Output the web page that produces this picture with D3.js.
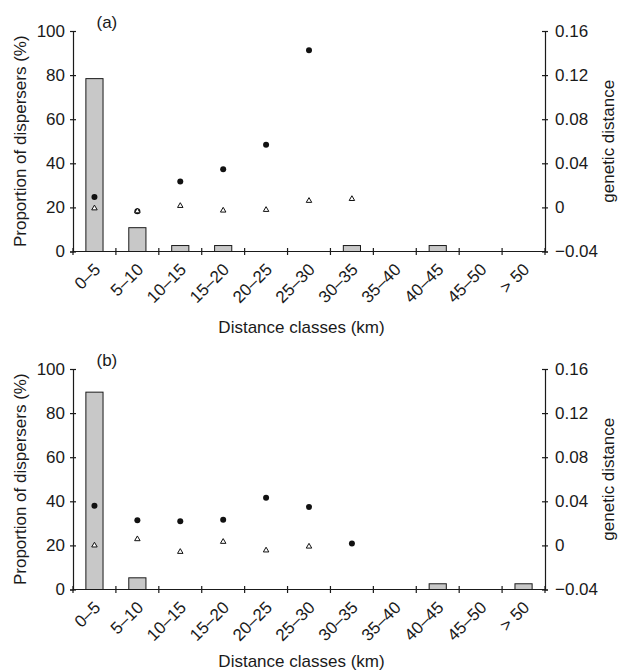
<!DOCTYPE html>
<html><head><meta charset="utf-8">
<script src="https://cdn.jsdelivr.net/npm/d3@7"></script>
<style>body{margin:0;background:#fff}text{font-family:"Liberation Sans",Arial,sans-serif;fill:#1a1a1a}</style>
</head><body>
<svg id="chart" width="618" height="671"></svg>
<script>
const categories = ["0–5","5–10","10–15","15–20","20–25","25–30","30–35","35–40","40–45","45–50","> 50"];
const pctTicks = [0,20,40,60,80,100];
const genTicks = [-0.04,0,0.04,0.08,0.12,0.16];
// panel (a)
const barsA = [78.4,10.8,2.7,2.7,0,0,2.7,0,2.7,0,0];
const circlesA = [0.0095,-0.0035,0.0235,0.0345,0.0568,0.1425,null,null,null,null,null];
const trianglesA = [-0.0008,-0.0035,0.0014,-0.0028,-0.0022,0.006,0.0077,null,null,null,null];
// panel (b)
const barsB = [89.5,5.3,0,0,0,0,0,0,2.6,0,2.6];
const circlesB = [0.036,0.0227,0.022,0.0233,0.0433,0.0348,0.0018,null,null,null,null];
const trianglesB = [0,0.0057,-0.0058,0.0033,-0.0045,-0.001,null,null,null,null,null];

const svg = d3.select("#chart");
const left = 73, right = 545;
const FS = 17;

function panel(label, top, bottom, bars, circles, tris, titleY){
  const g = svg.append("g");
  const x = d3.scaleBand().domain(categories).range([left,right]).padding(0);
  const y = d3.scaleLinear().domain([0,100]).range([bottom,top]);
  const y2 = d3.scaleLinear().domain([-0.04,0.16]).range([bottom,top]);
  const bw = x.bandwidth()*0.4;

  // bars
  g.selectAll("rect.bar").data(categories.map((c,i)=>({c,v:bars[i]})).filter(d=>d.v>0))
    .enter().append("rect")
    .attr("x",d=>x(d.c)+x.bandwidth()/2-bw/2).attr("width",bw)
    .attr("y",d=>y(d.v)).attr("height",d=>y(0)-y(d.v))
    .attr("fill","#c8c8c8").attr("stroke","#1a1a1a").attr("stroke-width",1);

  // left axis
  const ax = g.append("g").attr("transform",`translate(${left},0)`)
    .call(d3.axisLeft(y).tickValues(pctTicks).tickSize(3).tickPadding(5).tickFormat(d3.format("d")));
  ax.selectAll(".tick line").attr("x1",-3).attr("x2",3);
  // right axis
  const ax2 = g.append("g").attr("transform",`translate(${right},0)`)
    .call(d3.axisRight(y2).tickValues(genTicks).tickSize(3).tickPadding(7)
      .tickFormat(d=> d===0 ? "0" : (d<0?"−":"")+Math.abs(d).toFixed(2)));
  ax2.selectAll(".tick line").attr("x1",-3).attr("x2",3);
  // bottom axis
  const bounds = categories.map(c=>x(c)).concat([right]);
  g.append("line").attr("x1",left).attr("x2",right).attr("y1",bottom).attr("y2",bottom)
    .attr("stroke","#1a1a1a").attr("stroke-width",1.2);
  g.selectAll("line.xt").data(bounds).enter().append("line")
    .attr("x1",d=>d).attr("x2",d=>d).attr("y1",bottom-3.5).attr("y2",bottom+3.5)
    .attr("stroke","#1a1a1a").attr("stroke-width",1.2);
  g.selectAll("text.xl").data(categories).enter().append("text")
    .attr("transform",d=>`translate(${x(d)+x.bandwidth()/2+7},${bottom+19}) rotate(-45)`)
    .attr("text-anchor","end").attr("font-size",FS).text(d=>d);

  [ax,ax2].forEach(a=>{
    a.select(".domain").attr("stroke","#1a1a1a").attr("stroke-width",1.2);
    a.selectAll(".tick line").attr("stroke","#1a1a1a").attr("stroke-width",1.2);
    a.selectAll(".tick text").attr("font-size",FS).attr("font-family","Liberation Sans, Arial, sans-serif").attr("fill","#1a1a1a");
  });

  // circles
  g.selectAll("circle.c").data(categories.map((c,i)=>({c,v:circles[i]})).filter(d=>d.v!==null))
    .enter().append("circle")
    .attr("cx",d=>x(d.c)+x.bandwidth()/2).attr("cy",d=>y2(d.v)).attr("r",3)
    .attr("fill","#111");
  // triangles
  const tri = d3.symbol().type(d3.symbolTriangle).size(13);
  g.selectAll("path.t").data(categories.map((c,i)=>({c,v:tris[i]})).filter(d=>d.v!==null))
    .enter().append("path")
    .attr("d",tri)
    .attr("transform",d=>`translate(${x(d.c)+x.bandwidth()/2},${y2(d.v)})`)
    .attr("fill","#fff").attr("stroke","#111").attr("stroke-width",1);

  // labels
  g.append("text").attr("x",96.5).attr("y",top-3).attr("font-size",FS).text(label);
  g.append("text").attr("transform",`translate(26,${(top+bottom)/2}) rotate(-90)`)
    .attr("text-anchor","middle").attr("font-size",FS).text("Proportion of dispersers (%)");
  g.append("text").attr("transform",`translate(613.5,${(top+bottom)/2}) rotate(-90)`)
    .attr("text-anchor","middle").attr("font-size",FS).text("genetic distance");
  g.append("text").attr("x",(left+right)/2-7.5).attr("y",titleY)
    .attr("text-anchor","middle").attr("font-size",FS).text("Distance classes (km)");
}

panel("(a)", 31, 251.5, barsA, circlesA, trianglesA, 333);
panel("(b)", 369, 589.5, barsB, circlesB, trianglesB, 667);
</script>
</body></html>
